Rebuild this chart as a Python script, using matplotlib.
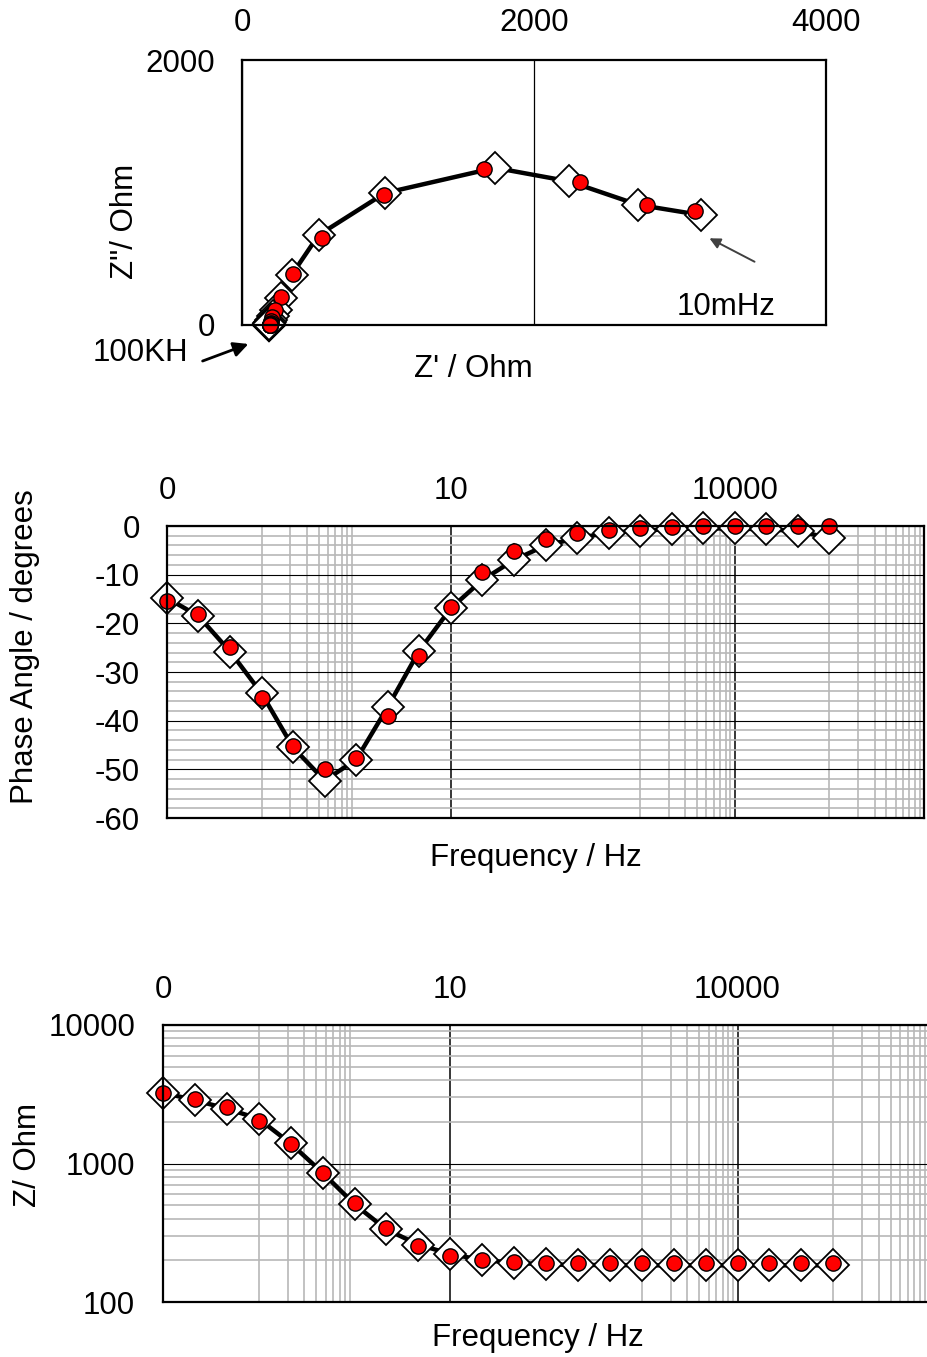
import numpy as np
import matplotlib
matplotlib.use("Agg")
import matplotlib.pyplot as plt
from matplotlib.ticker import FixedLocator, NullFormatter

plt.rcParams['font.family'] = ['Liberation Sans', 'DejaVu Sans']
plt.rcParams['axes.unicode_minus'] = False
FS = 22.5

# Impedance spectrum, 100 kHz .. 10 mHz, three points per decade
freq = [0.01, 0.0215, 0.0464, 0.1, 0.215, 0.464, 1.0, 2.15, 4.64, 10.0, 21.5,
        46.4, 100.0, 215.0, 464.0, 1000.0, 2150.0, 4640.0, 10000.0, 21500.0,
        46400.0, 100000.0]

# measured data (open diamonds, joined by a line)
zmod_meas = [3250, 2860, 2490, 2100, 1396, 857, 508, 334, 260, 222, 201, 192,
             187, 185, 185, 184, 184, 184, 184, 184, 184, 184]
phase_meas = [-14.8, -18.5, -25.8, -34.4, -45.5, -52.3, -48.0, -37.2, -25.6,
              -16.9, -11.1, -7.0, -4.0, -2.5, -1.4, -1.0, -0.6, -0.5, -0.5,
              -0.7, -1.0, -2.5]

# fitted model (red dots)
zmod_fit = [3220, 2920, 2555, 2030, 1380, 855, 518, 340, 252, 216, 202, 196,
            192, 191, 191, 191, 191, 191, 191, 191, 191, 191]
phase_fit = [-15.5, -18.1, -24.9, -35.4, -45.2, -50.0, -47.7, -39.0, -26.8,
             -16.6, -9.4, -5.1, -2.7, -1.5, -0.8, -0.4, -0.2, -0.1, -0.1,
             -0.1, -0.1, -0.1]

freq_ticks = [0.01, 10, 10000]
freq_ticklabels = ['0', '10', '10000']

W, H = 927, 1357


def fx(x):
    return x / W


def fy(y):
    return 1 - y / H


def nyquist(zmod, phase):
    zm = np.asarray(zmod, float)
    ph = np.radians(np.asarray(phase, float))
    return zm * np.cos(ph), -zm * np.sin(ph)


def draw_series(ax, x1, y1, x2, y2):
    ax.plot(x1, y1, '-', color='black', lw=3.2, zorder=3, clip_on=False)
    ax.plot(x1, y1, 'D', ms=16.5, mfc='white', mec='black', mew=1.3,
            ls='none', zorder=4, clip_on=False)
    ax.plot(x2, y2, 'o', ms=11, mfc='#ff0000', mec='black', mew=1.0,
            ls='none', zorder=5, clip_on=False)


def style_frame(ax):
    for s in ax.spines.values():
        s.set_linewidth(1.6)
        s.set_color('black')
        s.set_zorder(6)
    ax.tick_params(which='both', length=0, labelsize=FS)


fig = plt.figure(figsize=(W / 100, H / 100), dpi=100)

# ---------------- Nyquist plot ----------------
ax1 = fig.add_axes([fx(242), fy(325), 584 / W, 265 / H])
zr_m, zi_m = nyquist(zmod_meas, phase_meas)
zr_f, zi_f = nyquist(zmod_fit, phase_fit)
draw_series(ax1, zr_m, zi_m, zr_f, zi_f)
ax1.set_xlim(0, 4000)
ax1.set_ylim(0, 2000)
ax1.set_xticks([0, 2000, 4000])
ax1.set_yticks([0, 2000])
ax1.xaxis.tick_top()
style_frame(ax1)
ax1.tick_params(axis='x', pad=15.5)
ax1.tick_params(axis='y', pad=19.5)
ax1.grid(axis='x', color='black', lw=0.9)
ax1.set_axisbelow(True)

fig.text(fx(473), fy(369), "Z' / Ohm", fontsize=FS, ha='center', va='center')
fig.text(fx(125), fy(221), 'Z"/ Ohm', fontsize=FS, ha='center', va='center',
         rotation=90)
fig.text(fx(726), fy(307), '10mHz', fontsize=FS, ha='center', va='center')
fig.text(fx(140), fy(353), '100KH', fontsize=FS, ha='center', va='center')
fig.add_artist(matplotlib.patches.FancyArrowPatch(
    (fx(757), fy(263)), (fx(707), fy(237)), transform=fig.transFigure,
    arrowstyle='-|>', mutation_scale=16, color='#404040', lw=1.4))
fig.add_artist(matplotlib.patches.FancyArrowPatch(
    (fx(200), fy(362)), (fx(251), fy(343)), transform=fig.transFigure,
    arrowstyle='-|>', mutation_scale=22, color='black', lw=2.0))

# minor gridline positions on the frequency axis
freq_minor = [k * 0.1 for k in range(1, 10)] + \
             [k * 1000.0 for k in range(1, 10)] + \
             [k * 1e5 for k in range(1, 10)]


def style_freq_axis(ax):
    ax.set_xscale('log')
    ax.set_xlim(0.01, 1e6)
    ax.xaxis.set_major_locator(FixedLocator(freq_ticks))
    ax.set_xticklabels(freq_ticklabels)
    ax.xaxis.set_minor_locator(FixedLocator(freq_minor))
    ax.xaxis.set_minor_formatter(NullFormatter())
    ax.xaxis.tick_top()
    ax.grid(axis='x', which='minor', color='#b8b8b8', lw=1.2)
    ax.grid(axis='x', which='major', color='black', lw=1.1)


# ---------------- Phase plot ----------------
ax2 = fig.add_axes([fx(167), fy(818), 757 / W, 292 / H])
style_freq_axis(ax2)
ax2.set_ylim(-60, 0)
ax2.yaxis.set_major_locator(FixedLocator(list(range(-60, 1, 10))))
ax2.yaxis.set_minor_locator(FixedLocator(list(range(-58, 0, 2))))
ax2.yaxis.set_minor_formatter(NullFormatter())
ax2.grid(axis='y', which='minor', color='#b8b8b8', lw=1.2)
ax2.grid(axis='y', which='major', color='black', lw=0.8)
ax2.set_axisbelow(True)
draw_series(ax2, freq, phase_meas, freq, phase_fit)
style_frame(ax2)
ax2.tick_params(axis='x', pad=14.5)
ax2.tick_params(axis='y', pad=19.5)

fig.text(fx(536), fy(858), 'Frequency / Hz', fontsize=FS, ha='center',
         va='center')
fig.text(fx(25), fy(647), 'Phase Angle / degrees', fontsize=FS, ha='center',
         va='center', rotation=90)

# ---------------- Modulus plot ----------------
ax3 = fig.add_axes([fx(163), fy(1302), 766 / W, 277 / H])
style_freq_axis(ax3)
ax3.set_yscale('log')
ax3.set_ylim(100, 10000)
ax3.yaxis.set_major_locator(FixedLocator([100, 1000, 10000]))
ax3.set_yticklabels(['100', '1000', '10000'])
ax3.yaxis.set_minor_locator(FixedLocator(
    [k * 100.0 for k in range(2, 10)] + [k * 1000.0 for k in range(2, 10)]))
ax3.yaxis.set_minor_formatter(NullFormatter())
ax3.grid(axis='y', which='minor', color='#b8b8b8', lw=1.2)
ax3.grid(axis='y', which='major', color='black', lw=0.8)
ax3.set_axisbelow(True)
draw_series(ax3, freq, zmod_meas, freq, zmod_fit)
style_frame(ax3)
ax3.tick_params(axis='x', pad=14.5)
ax3.tick_params(axis='y', pad=20)

fig.text(fx(538), fy(1338), 'Frequency / Hz', fontsize=FS, ha='center',
         va='center')
fig.text(fx(28), fy(1155), 'Z/ Ohm', fontsize=FS, ha='center', va='center',
         rotation=90)

fig.savefig('out.png', dpi=100, facecolor='white')
